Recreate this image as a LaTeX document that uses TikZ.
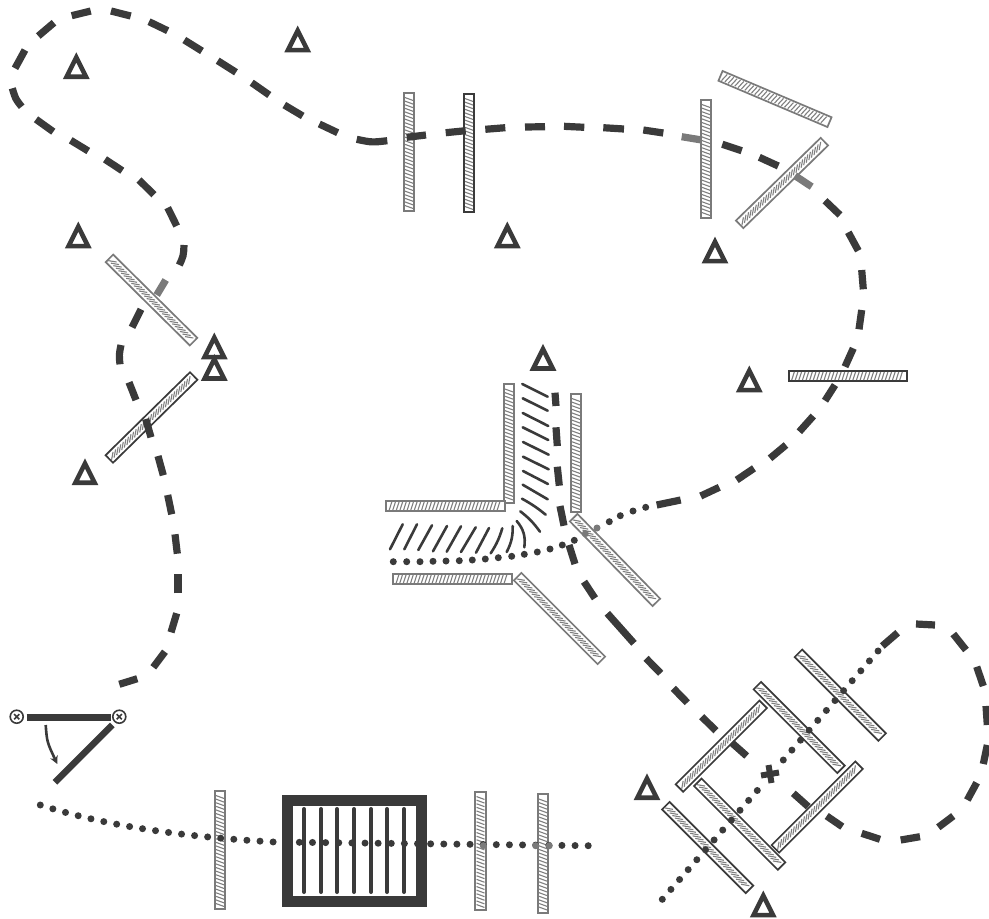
\documentclass[tikz,border=0pt]{standalone}
\usepackage{amsmath,amssymb}
\usetikzlibrary{positioning,arrows.meta}
\definecolor{ink}{HTML}{3A3A3A}
\definecolor{dim}{HTML}{7A7A7A}
\def\mframe{dim}
\tikzset{
	dark/.code={\def\mframe{ink}},
	mirror/.pic={\pgfmathsetmacro{\hx}{4.2*cos(#1)}\pgfmathsetmacro{\hy}{4.2*sin(#1)}
		\filldraw[fill=white, draw=\mframe, line width=1.7pt] (-59.2,-5.3) rectangle (59.2,5.3);
		\foreach \s in {-55,-51.4,...,55} {\draw[ink!65, line width=1.1pt] ({\s-\hx},\hy) -- ({\s+\hx},-\hy);}},
	beam/.style={draw=ink, line width=7.2pt},
	dots/.style={draw=ink, line width=7pt, line cap=round, dash pattern=on 0pt off 13.13pt},
	flow/.style={draw=ink, line width=2.6pt, line cap=round},
	rod/.style={draw=ink, line width=4pt, line cap=round},
	pivot/.style={circle, draw=ink, line width=1.6pt, fill=white, minimum size=13pt, inner sep=0pt, path picture={\draw[ink, line width=1.6pt] ([shift={(-2.6pt,-2.6pt)}]path picture bounding box.center) -- ([shift={(2.6pt,2.6pt)}]path picture bounding box.center) ([shift={(-2.6pt,2.6pt)}]path picture bounding box.center) -- ([shift={(2.6pt,-2.6pt)}]path picture bounding box.center);}},
	det/.pic={\draw[ink, line width=4.6pt] (-9.67,-2.25) -- (0,-21.6) -- (9.67,-2.25) -- cycle;}
}
\begin{document}
\begin{tikzpicture}[x=1pt, y=-1pt]
	\useasboundingbox (0,0) rectangle (989,919);
	% mirrors of the long arm
	\pic[rotate=90] (M1) at (409,152) {mirror=70}; \pic[rotate=90, dark] (M2) at (469,153) {mirror=70}; \pic[rotate=90] (M3) at (706,159) {mirror=70};
	\pic[rotate=-23] (M4) at (775,99) {mirror=70}; \pic[rotate=44.3] (M5) at (782,183) {mirror=35}; \pic[dark] (M6) at (848,376) {mirror=72};
	\pic[rotate=-44.7] (M7) at (151.5,300) {mirror=35}; \pic[rotate=44.5, dark] (M8) at (151.5,417.5) {mirror=35};
	\pic[rotate=90] (M9) at (220,850) {mirror=70}; \pic[rotate=90] (M10) at (480.5,851) {mirror=70}; \pic[rotate=90] (M11) at (543,853.5) {mirror=70};
	% junction
	\pic[rotate=90] (Ja) at (509,443.5) {mirror=70}; \pic (Jb) at (445.5,506) {mirror=72}; \pic[rotate=90] (Jc) at (576,453) {mirror=70};
	\pic (Jd) at (452.5,579) {mirror=72}; \pic[rotate=-45.7] (Je) at (615,560) {mirror=35}; \pic[rotate=-45] (Jf) at (559.5,618.5) {mirror=35};
	% cavity around the crystal
	\pic[rotate=45, dark] (Ca) at (721.3,746.2) {mirror=35}; \pic[rotate=-45, dark] (Cb) at (799.2,727.5) {mirror=35}; \pic[rotate=45, dark] (Cc) at (817.2,807) {mirror=35};
	\pic[rotate=-45, dark] (Cd) at (739.7,824.2) {mirror=35}; \pic[rotate=-45, dark] (Ce) at (840.3,695.2) {mirror=35}; \pic[rotate=-45, dark] (Cf) at (707.7,847.5) {mirror=35};
	% channel lines
	\foreach \a/\b/\c/\d in {522.3/384/547.7/396.7, 522.7/398.3/547.7/410.7, 522.7/413/548.3/426, 522.7/427.3/548.3/440, 523/442/548.7/454.7, 523/456.7/548.7/469.3, 523/471/548/484, 522.7/484.7/547.7/499.3, 390/549.3/402.7/524.3, 404.3/549.3/417/524.3, 418.3/550/432/525.3, 433/551.3/447/526, 446.7/551.7/461/526.3, 461/552/475.7/527.3, 476/552.7/489/528} {\draw[flow] (\a,\b) -- (\c,\d);}
	\draw[flow] (522,498.7) to[bend left=5] (545.7,514.7);
	\draw[flow] (520.3,511.3) to[bend left=8] (540,531.7);
	\draw[flow] (490.7,553.3) to[bend right=8] (502.3,528.3);
	\draw[flow] (506.7,552) to[bend right=14] (512.7,526);
	\draw[flow] (524.3,547.3) to[bend right=24] (516.7,521);
	% dashed beam
	\foreach \a/\b/\c/\d in {119.3/684.3/137.3/678.7, 153.3/667.3/165/651.7, 171/632.3/176.7/613.3, 178/593.3/178/574, 177.3/553.7/175/534.3, 171.7/514.3/167.7/495, 163.3/475.3/158/456, 151/437.3/145.7/419, 136/400/129/382.3, 132/327.3/141/309.3, 176.7/226/167.7/207.7, 154/194.7/139/180, 122.3/170.7/105/159.3, 88.3/151/70.7/140.3, 53.3/131.7/36/119.3, 15/68.3/25/50, 38.3/36/54/22.7, 71.7/15.7/90.7/11, 111/11/130.7/16, 149/21.7/167.7/30.7, 184.3/40/202/51, 217.7/60.7/236/72.3, 251.7/82.7/269.3/95, 284.3/105/302.7/116, 319.3/124/337.7/132.7, 406.7/137.3/426/135, 445.7/132.7/465.7/130.7, 485.3/129.3/505.3/127.7, 525/127/545/126.7, 564/126.3/584.3/127.3, 603.3/127.7/624/129, 643.3/130/663.3/133, 722.3/144.3/741.7/150.7, 759.3/157.3/778.3/166, 825/200.7/840/215, 848.3/232.3/858.3/250.7, 861.7/270/863.3/289.3, 861.7/310/859/329.3, 853.3/348.3/845/366.7, 835/385/825/400.7, 813.3/416/799.3/431.7, 786/445/770/458.3, 754/468.3/736.7/480, 719.3/487.3/700.7/496, 680.7/500/656.7/505} {\draw[beam] (\a,\b) -- (\c,\d);}
	\draw[beam] (120,364.3) .. controls (119,355) .. (121,345);
	\draw[beam] (21.7,106.7) .. controls (15.5,99) .. (12.3,88.3);
	\draw[beam] (179.3,265) .. controls (183.5,256) .. (184,245);
	\draw[beam] (356.7,139.3) .. controls (372,142.5) .. (387.3,140.7);
	\foreach \a/\b/\c/\d in {156.7/295/165.7/280, 681.7/136.7/701.7/140, 795/175.7/811.7/186.7} {\draw[beam, draw=dim] (\a,\b) -- (\c,\d);}
	% second dashed beam
	\foreach \a/\b/\c/\d in {555/392.7/556/406, 556/427.3/557.3/446, 557.3/466.7/559.3/485.7, 560/506/564/525.7, 569/545/575/564, 584/581.7/595/598.3, 607.3/613.3/634/643.3, 646/658.3/660.7/673.3, 673.3/688.3/687.3/702.7, 701.7/716.7/716/730.7, 731.7/742.7/746.7/756, 793.3/793.3/808.3/806.7, 826.7/816/842.3/826.7, 861.7/833.3/880/839.3, 900.7/840/920/836.7, 938.3/827.3/953.3/816, 967.3/800/976.7/782.7, 983.3/764/987.3/745, 987.3/725/986/706, 983.3/686/976.7/666.7, 966/650/953.3/634, 935/625/916/624, 897.7/632.7/882.3/646} {\draw[beam] (\a,\b) -- (\c,\d);}
	% dotted beams
	\draw[dots] (662.3,899.3) -- (757.7,790);
	\draw[dots] (783.3,760) -- (878.3,650.7);
	\draw[dots] (40.3,805) .. controls (100,824) and (170,836) .. (274,842) -- (588.3,845.7);
	\foreach \a/\b in {645.7/507.3, 633/511, 620.3/515.7, 609.3/521.7, 574.3/540.3, 562.3/545, 550/549, 537.3/552, 524.3/554.3, 511.7/556.3, 498.3/557.7, 485.3/559, 472.3/560, 459.3/560.7, 446/561, 433/561.3, 420/561.7, 406.7/561.7, 393.3/561.7} {\fill[ink] (\a,\b) circle (3.5);}
	\foreach \a/\b in {597/528, 585.3/533.7, 483.3/845.7, 535.7/845.7, 549.3/845.7} {\fill[dim] (\a,\b) circle (3.5);}
	% etalon
	\node[draw=ink, line width=11pt, minimum width=133.5pt, minimum height=101pt, inner sep=0pt, outer sep=0pt] (box) at (354.25,851) {};
	\foreach \x in {304,321,337,354,371,387,404} {\draw[rod] (\x,809) -- (\x,892);}
	% crystal
	\draw[ink, line width=6pt] (761,775.5) -- (779,772.5) (768.5,765) -- (771.5,783);
	% shutter
	\node[pivot] (P1) at (16.7,716.7) {}; \node[pivot] (P2) at (119.3,716.7) {};
	\draw[ink, line width=7pt] (P1) ++(10,0.6) -- ([xshift=-8.6pt,yshift=-0.6pt]P2.center);
	\draw[ink, line width=6.5pt] (112.3,725) -- (55,782.3);
	\draw[ink, line width=2.6pt, -{Stealth[length=8pt,width=8pt]}] (45.7,725) .. controls (47,742) .. (57.3,764);
	% detectors
	\foreach \x/\y/\n in {76.3/79/a, 297.7/52.3/b, 78.3/248.3/c, 214.3/359.3/d, 214.3/380.7/e, 85/485/f, 507.3/248.3/g, 715/263.3/h, 749.3/392.3/i, 543/370.7/j, 647/800/k, 763.3/917.3/l} {\pic (D\n) at (\x,\y) {det};}
\end{tikzpicture}
\end{document}
